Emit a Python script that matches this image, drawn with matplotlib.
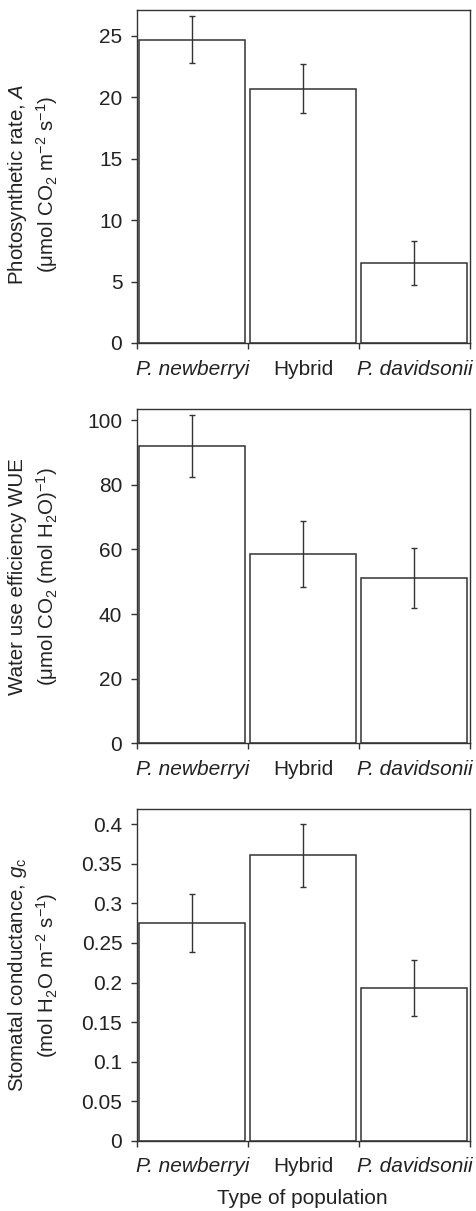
import matplotlib
matplotlib.use('Agg')
import matplotlib.pyplot as plt
import numpy as np

# data
groups = ['P. newberryi', 'Hybrid', 'P. davidsonii']
photo_rate = [24.7, 20.7, 6.5]
photo_err = [1.9, 2.0, 1.8]
wue = [92.0, 58.7, 51.2]
wue_err = [9.7, 10.2, 9.2]
gs = [0.275, 0.361, 0.193]
gs_err = [0.037, 0.040, 0.035]

plt.rcParams['font.family'] = ['Liberation Sans', 'DejaVu Sans']
plt.rcParams['mathtext.fontset'] = 'custom'
plt.rcParams['mathtext.rm'] = 'Liberation Sans'
plt.rcParams['mathtext.it'] = 'Liberation Sans:italic'
plt.rcParams['mathtext.default'] = 'regular'

txt = '#222222'
edge = '#333333'

fig = plt.figure(figsize=(4.77, 12.11), dpi=100)

# values, errors, y max, y ticks, y label lines, axes box, label shift (px)
panels = [
    (photo_rate, photo_err, 27.1, np.arange(0, 26, 5),
     ['Photosynthetic rate, $\\mathit{A}$', '(μmol CO$_2$ m$^{-2}$ s$^{-1}$)'],
     [0.287, 0.7168, 0.698, 0.2749], -8),
    (wue, wue_err, 103.5, np.arange(0, 101, 20),
     ['Water use efficiency WUE', '(μmol CO$_2$ (mol H$_2$O)$^{-1}$)'],
     [0.287, 0.3862, 0.698, 0.2761], 0),
    (gs, gs_err, 0.419, np.arange(0, 0.41, 0.05),
     ['Stomatal conductance, $\\mathit{g}_c$', '(mol H$_2$O m$^{-2}$ s$^{-1}$)'],
     [0.287, 0.0580, 0.698, 0.2737], 0),
]

x = np.arange(len(groups)) + 0.5

for vals, errs, ytop, yticks, ylab, pos, shift in panels:
    ax = fig.add_axes(pos)
    ax.bar(x, vals, width=0.955, color='white', edgecolor=edge, linewidth=1.1)
    ax.errorbar(x, vals, yerr=errs, fmt='none', ecolor=edge, elinewidth=1.0,
                capsize=2.5, capthick=1.0)
    ax.set_xlim(0, 3)
    ax.set_ylim(0, ytop)
    ax.set_yticks(yticks)
    ax.set_yticklabels(['%g' % round(t, 2) for t in yticks])
    ax.set_xticks([0, 1, 2, 3])
    ax.set_xticklabels([])
    ax.set_xticks(x, minor=True)
    ax.set_xticklabels(groups, minor=True)
    for lab, name in zip(ax.get_xticklabels(minor=True), groups):
        if name.startswith('P.'):
            lab.set_style('italic')
    ax.tick_params(axis='x', which='minor', length=0, pad=12, labelsize=15, colors=txt)
    ax.tick_params(axis='x', which='major', length=4.5, width=1, direction='out', color=edge)
    ax.tick_params(axis='y', length=4.5, width=1, direction='out', color=edge,
                   labelsize=15, labelcolor=txt, pad=6)
    for s in ax.spines.values():
        s.set_color(edge)
        s.set_linewidth(1.0)
    # two-line y label
    cy = pos[1] + pos[3] / 2 + shift / 1211
    fig.text(17.5 / 477, cy, ylab[0], rotation=90, ha='center', va='center',
             fontsize=14.8, color=txt)
    fig.text(47.5 / 477, cy, ylab[1], rotation=90, ha='center', va='center',
             fontsize=14.8, color=txt)

fig.text(302 / 477, 1 - 1199 / 1211, 'Type of population', ha='center', va='center',
         fontsize=15, color=txt)

plt.savefig('out.png', dpi=100)
